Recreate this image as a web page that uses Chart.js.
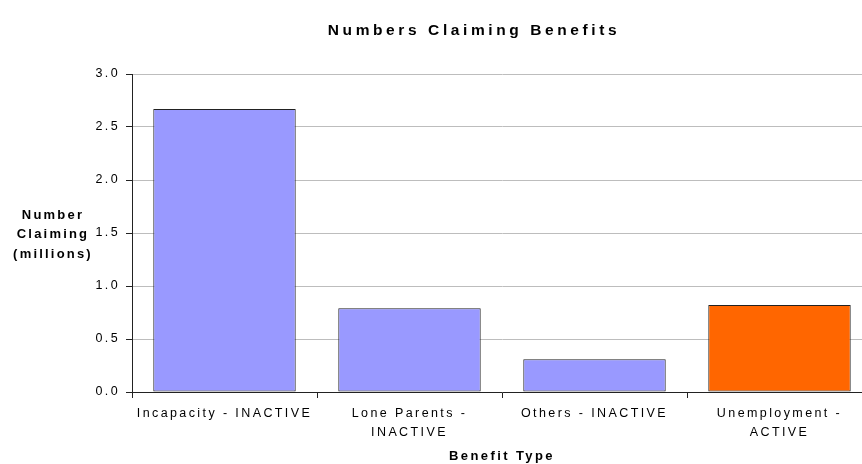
<!DOCTYPE html>
<html>
<head>
<meta charset="utf-8">
<style>
  html, body { margin: 0; padding: 0; background: #fff; overflow: hidden; }
  /* plot runs a little past the right edge of the window */
  #wrap { width: 872px; height: 464px; }
</style>
<script src="https://cdn.jsdelivr.net/npm/chart.js@4/dist/chart.umd.min.js"></script>
</head>
<body>
<div id="wrap"><canvas id="chart"></canvas></div>
<script>
// benefit types and claimants (millions)
const categories = [
  "Incapacity - INACTIVE",
  ["Lone Parents -", "INACTIVE"],
  "Others - INACTIVE",
  ["Unemployment -", "ACTIVE"],
];
const claimants = [2.67, 0.79, 0.31, 0.82];
const barColours = ["#9999FF", "#9999FF", "#9999FF", "#FF6600"];
const yTitleLines = ["Number", "Claiming", "(millions)"];

const FONT = "'Liberation Sans', Arial, sans-serif";
const SPACING = "2.4px";

// wide letter spacing; canvas state resets on resize so set it each pass
const spacing = {
  id: "spacing",
  beforeLayout(chart) { chart.ctx.letterSpacing = SPACING; },
  beforeDraw(chart) { chart.ctx.letterSpacing = SPACING; },
};

// chart title and horizontal y-axis caption
const captions = {
  id: "captions",
  afterDraw(chart) {
    const ctx = chart.ctx;
    ctx.save();
    ctx.fillStyle = "#000";
    ctx.textAlign = "center";
    ctx.textBaseline = "middle";
    ctx.letterSpacing = "3.6px";
    ctx.font = "bold 15.5px " + FONT;
    ctx.fillText("Numbers Claiming Benefits", 474, 31);
    ctx.letterSpacing = "2.2px";
    ctx.font = "bold 13px " + FONT;
    yTitleLines.forEach((t, i) => ctx.fillText(t, 53, 215 + i * 19.5));
    ctx.restore();
  },
};

new Chart(document.getElementById("chart"), {
  type: "bar",
  data: {
    labels: categories,
    datasets: [{
      data: claimants,
      backgroundColor: barColours,
      borderColor: "#222",
      borderWidth: 1,
      borderSkipped: false,
      barPercentage: 0.77,
      categoryPercentage: 1,
    }],
  },
  options: {
    responsive: true,
    maintainAspectRatio: false,
    animation: false,
    layout: { padding: { top: 74, right: 0, left: 0, bottom: 0 } },
    plugins: {
      legend: { display: false },
      tooltip: { enabled: false },
    },
    scales: {
      x: {
        offset: true,
        grid: {
          offset: true,
          drawOnChartArea: false,
          tickColor: "#222",
          tickLength: 6,
        },
        border: { color: "#222", width: 1 },
        ticks: {
          color: "#000",
          font: { family: FONT, size: 12.5, lineHeight: 1.5 },
          maxRotation: 0,
          autoSkip: false,
          padding: 6,
        },
        title: {
          display: true,
          text: "Benefit Type",
          color: "#000",
          font: { family: FONT, size: 13, weight: "bold" },
          padding: { top: 2, bottom: 0 },
        },
        afterFit(scale) { scale.height = 72; },
      },
      y: {
        min: 0,
        max: 3,
        ticks: {
          stepSize: 0.5,
          color: "#000",
          font: { family: FONT, size: 12.5 },
          padding: 6,
          callback: (v) => v.toFixed(1),
        },
        grid: {
          color: "#bdbdbd",
          tickColor: "#222",
          tickLength: 6,
        },
        border: { color: "#222", width: 1 },
        afterFit(scale) { scale.width = 132; },
      },
    },
  },
  plugins: [spacing, captions],
});
</script>
</body>
</html>
